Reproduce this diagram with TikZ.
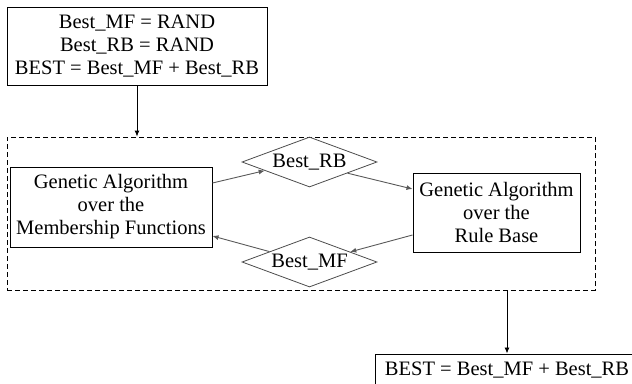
\documentclass[tikz,border=0pt]{standalone}
\usepackage{fontspec}
\setmainfont{Liberation Serif}
\usetikzlibrary{shapes.geometric,arrows.meta,calc}
\begin{document}
\begin{tikzpicture}[x=1pt,y=-1pt,>={Latex[length=6pt,width=5pt]}]
\tikzstyle{every node}+=[inner sep=0pt,font=\fontsize{20.5}{23}\selectfont,align=center]
\tikzstyle{block}=[draw=black,line width=1pt]
\tikzstyle{best}=[draw=black!70,line width=0.8pt,diamond,aspect=2.7,minimum width=135pt,minimum height=50pt]
\tikzstyle{link}=[->,draw=black!65,line width=0.9pt]
\path [use as bounding box,clip] (0,0) rectangle (632,383);
\node [block,minimum width=260pt,minimum height=78pt] (init) at (137,46) {Best\_MF = RAND\\Best\_RB = RAND\\BEST = Best\_MF + Best\_RB};
\node [draw=black,dash pattern=on 5pt off 3pt,line width=0.8pt,minimum width=588pt,minimum height=153pt] (loop) at (301,213.5) {};
\node [block,minimum width=202pt,minimum height=80pt] (gamf) at (111,207) {Genetic Algorithm\\over the\\Membership Functions};
\node [block,minimum width=167pt,minimum height=79pt] (garb) at (496.5,212.5) {Genetic Algorithm\\over the\\Rule Base};
\node [best] (bestrb) at (309.5,162) {Best\_RB};
\node [best] (bestmf) at (309.5,262) {Best\_MF};
\node [block,minimum width=264pt,minimum height=32pt] (final) at (507,370) {BEST = Best\_MF + Best\_RB};
\draw [->,black,line width=0.9pt] (init) -- (init |- loop.north);
\draw [link] ([yshift=24pt]gamf.east) -- ($(bestrb.west)!0.34!(bestrb.south)$);
\draw [link] ($(bestrb.south)!0.56!(bestrb.east)$) -- ([yshift=23.5pt]garb.west);
\draw [link] ([yshift=-22.5pt]garb.west) -- ($(bestmf.north)!0.6!(bestmf.east)$);
\draw [link] ($(bestmf.west)!0.41!(bestmf.north)$) -- ([yshift=-29pt]gamf.east);
\draw [->,black,line width=0.9pt] (loop.south -| final) -- (final);
\end{tikzpicture}
\end{document}
